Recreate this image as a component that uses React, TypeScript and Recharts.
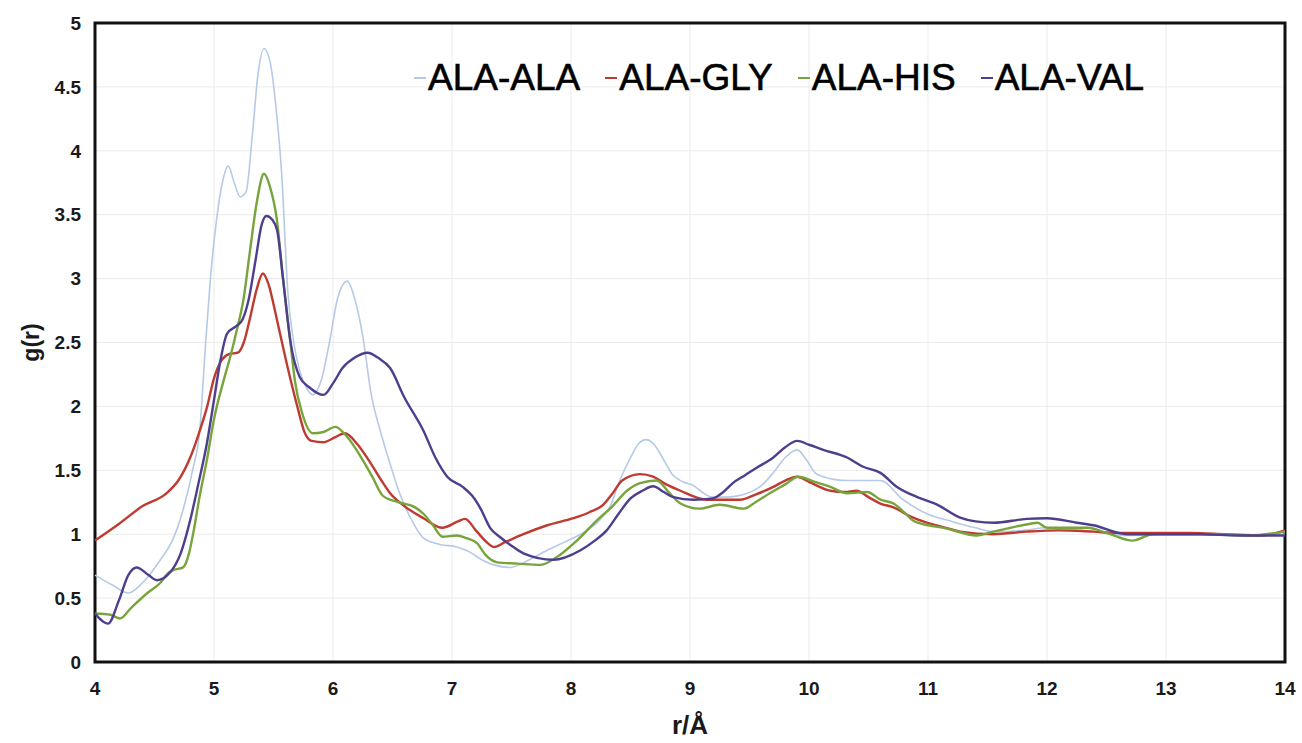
import React from 'react';
import { LineChart, Line, XAxis, YAxis, CartesianGrid, ReferenceArea, Label } from 'recharts';

const rTicks = [4, 5, 6, 7, 8, 9, 10, 11, 12, 13, 14];
const gTicks = [0, 0.5, 1, 1.5, 2, 2.5, 3, 3.5, 4, 4.5, 5];
const seriesNames = ['ALA-ALA', 'ALA-GLY', 'ALA-HIS', 'ALA-VAL'];
const seriesColors = ['#b6cae6', '#be3b31', '#78a43c', '#4e3f8e'];
const seriesWidths = [1.6, 2.4, 2.4, 2.4];

const alaAla: [number, number][] = [
  [4.0, 0.68], [4.15, 0.6], [4.28, 0.54], [4.4, 0.62], [4.55, 0.8], [4.65, 0.95], [4.74, 1.19], [4.82, 1.5],
  [4.88, 1.81], [4.93, 2.5], [4.97, 3.0], [5.02, 3.45], [5.07, 3.75], [5.12, 3.88], [5.17, 3.75], [5.22, 3.64],
  [5.27, 3.68], [5.32, 4.1], [5.37, 4.6], [5.42, 4.8], [5.47, 4.7], [5.52, 4.35], [5.57, 3.8], [5.62, 2.9],
  [5.67, 2.5], [5.72, 2.28], [5.78, 2.14], [5.83, 2.09], [5.9, 2.2], [5.97, 2.5], [6.04, 2.85], [6.12, 2.98],
  [6.18, 2.85], [6.25, 2.55], [6.32, 2.1], [6.4, 1.8], [6.48, 1.55], [6.56, 1.32], [6.65, 1.13], [6.76, 0.97],
  [6.9, 0.92], [7.04, 0.9], [7.15, 0.86], [7.25, 0.8], [7.35, 0.76], [7.49, 0.74], [7.65, 0.8], [7.8, 0.875],
  [7.95, 0.94], [8.08, 1.0], [8.24, 1.11], [8.33, 1.22], [8.41, 1.42], [8.5, 1.6], [8.57, 1.71], [8.63, 1.74],
  [8.7, 1.7], [8.78, 1.58], [8.85, 1.47], [8.94, 1.41], [9.03, 1.38], [9.1, 1.33], [9.19, 1.29], [9.3, 1.29],
  [9.48, 1.32], [9.6, 1.38], [9.7, 1.48], [9.8, 1.6], [9.9, 1.66], [9.98, 1.58], [10.05, 1.48], [10.12, 1.45],
  [10.32, 1.42], [10.6, 1.42], [10.79, 1.27], [10.99, 1.16], [11.2, 1.1], [11.4, 1.05], [11.55, 1.02],
  [11.8, 1.03], [12.0, 1.05], [12.2, 1.04], [12.39, 1.02], [12.67, 0.99], [13.0, 1.0], [13.3, 1.0],
  [13.6, 0.99], [14.0, 1.0],
];

const alaGly: [number, number][] = [
  [4.0, 0.95], [4.2, 1.08], [4.4, 1.22], [4.6, 1.32], [4.7, 1.42], [4.8, 1.6], [4.87, 1.78], [4.94, 1.99],
  [5.0, 2.22], [5.05, 2.34], [5.13, 2.41], [5.2, 2.42], [5.25, 2.5], [5.3, 2.68], [5.36, 2.92], [5.41, 3.04],
  [5.46, 2.95], [5.5, 2.8], [5.55, 2.59], [5.62, 2.3], [5.7, 2.0], [5.76, 1.8], [5.82, 1.73], [5.92, 1.72],
  [6.02, 1.76], [6.1, 1.79], [6.2, 1.71], [6.3, 1.58], [6.4, 1.43], [6.48, 1.32], [6.6, 1.22], [6.76, 1.125],
  [6.92, 1.05], [7.05, 1.1], [7.11, 1.12], [7.2, 1.03], [7.3, 0.93], [7.35, 0.9], [7.45, 0.94], [7.6, 1.0],
  [7.8, 1.07], [8.02, 1.125], [8.15, 1.17], [8.27, 1.23], [8.35, 1.32], [8.43, 1.42], [8.58, 1.47],
  [8.69, 1.45], [8.8, 1.39], [8.92, 1.34], [9.14, 1.27], [9.42, 1.27], [9.55, 1.31], [9.7, 1.37], [9.8, 1.42],
  [9.9, 1.45], [10.0, 1.41], [10.18, 1.34], [10.3, 1.33], [10.4, 1.34], [10.5, 1.29], [10.6, 1.24],
  [10.71, 1.21], [10.85, 1.14], [10.99, 1.09], [11.15, 1.05], [11.27, 1.02], [11.55, 1.0], [11.83, 1.02],
  [12.1, 1.03], [12.39, 1.02], [12.6, 1.01], [12.9, 1.01], [13.2, 1.01], [13.5, 1.0], [13.8, 0.99], [14.0, 1.03],
];

const alaHis: [number, number][] = [
  [4.0, 0.38], [4.13, 0.37], [4.21, 0.34], [4.3, 0.42], [4.44, 0.54], [4.55, 0.62], [4.62, 0.7], [4.66, 0.72],
  [4.74, 0.74], [4.79, 0.85], [4.83, 1.03], [4.88, 1.3], [4.94, 1.58], [5.0, 1.9], [5.08, 2.2], [5.14, 2.4],
  [5.19, 2.59], [5.25, 2.85], [5.3, 3.2], [5.36, 3.6], [5.42, 3.82], [5.47, 3.72], [5.53, 3.45], [5.58, 3.0],
  [5.64, 2.52], [5.68, 2.2], [5.74, 1.95], [5.83, 1.79], [5.92, 1.8], [6.02, 1.84], [6.12, 1.76], [6.25, 1.58],
  [6.33, 1.45], [6.42, 1.3], [6.55, 1.25], [6.69, 1.21], [6.76, 1.16], [6.84, 1.07], [6.92, 0.98], [7.04, 0.99],
  [7.12, 0.97], [7.21, 0.93], [7.28, 0.84], [7.38, 0.78], [7.55, 0.77], [7.74, 0.76], [7.91, 0.84],
  [8.05, 0.95], [8.22, 1.11], [8.35, 1.22], [8.47, 1.34], [8.58, 1.4], [8.72, 1.42], [8.82, 1.33],
  [8.92, 1.24], [9.08, 1.2], [9.25, 1.23], [9.45, 1.2], [9.55, 1.25], [9.67, 1.32], [9.8, 1.39], [9.91, 1.45],
  [10.05, 1.41], [10.18, 1.37], [10.32, 1.32], [10.49, 1.33], [10.6, 1.27], [10.71, 1.24], [10.8, 1.17],
  [10.87, 1.11], [11.0, 1.07], [11.13, 1.05], [11.41, 0.99], [11.55, 1.02], [11.69, 1.05], [11.85, 1.08],
  [11.92, 1.09], [12.0, 1.05], [12.2, 1.05], [12.34, 1.05], [12.53, 1.0], [12.72, 0.95], [12.89, 1.0],
  [13.1, 1.0], [13.4, 1.0], [13.7, 0.99], [14.0, 1.02],
];

const alaVal: [number, number][] = [
  [4.0, 0.38], [4.11, 0.3], [4.2, 0.48], [4.28, 0.68], [4.35, 0.74], [4.45, 0.68], [4.52, 0.64], [4.63, 0.7],
  [4.72, 0.85], [4.8, 1.11], [4.87, 1.4], [4.94, 1.71], [5.0, 2.05], [5.05, 2.34], [5.11, 2.57], [5.19, 2.63],
  [5.24, 2.68], [5.29, 2.83], [5.35, 3.15], [5.4, 3.42], [5.44, 3.49], [5.49, 3.46], [5.53, 3.38], [5.58, 3.0],
  [5.64, 2.52], [5.72, 2.23], [5.8, 2.15], [5.92, 2.09], [6.0, 2.18], [6.08, 2.3], [6.18, 2.38], [6.29, 2.42],
  [6.38, 2.38], [6.48, 2.3], [6.6, 2.07], [6.76, 1.81], [6.86, 1.6], [6.96, 1.45], [7.09, 1.37], [7.17, 1.3],
  [7.24, 1.2], [7.32, 1.05], [7.4, 0.98], [7.5, 0.91], [7.6, 0.85], [7.85, 0.8], [8.08, 0.875], [8.2, 0.95],
  [8.3, 1.03], [8.4, 1.16], [8.5, 1.28], [8.6, 1.34], [8.69, 1.375], [8.78, 1.33], [8.86, 1.29], [9.03, 1.27],
  [9.19, 1.28], [9.28, 1.33], [9.36, 1.4], [9.46, 1.46], [9.56, 1.52], [9.7, 1.6], [9.8, 1.68], [9.9, 1.73],
  [10.0, 1.7], [10.12, 1.66], [10.32, 1.6], [10.45, 1.53], [10.6, 1.48], [10.74, 1.37], [10.91, 1.29],
  [11.08, 1.23], [11.27, 1.13], [11.4, 1.1], [11.55, 1.09], [11.83, 1.12], [12.0, 1.125], [12.25, 1.09],
  [12.39, 1.07], [12.67, 1.0], [13.0, 1.0], [13.3, 1.0], [13.6, 0.99], [14.0, 0.99],
];

const seriesData = [alaAla, alaGly, alaHis, alaVal];
const toPoints = (arr: [number, number][]) => arr.map(([r, g]) => ({ r, g }));

const tickFont = { fontFamily: '"Liberation Sans Narrow", "Liberation Sans", Arial, sans-serif', fontWeight: 700, fontSize: 19, fill: '#1a1a1a' };

const ChartLegend = () => (
  <div style={{ position: 'absolute', left: 414, top: 58, display: 'flex', alignItems: 'center', fontFamily: '"Liberation Sans", Arial, sans-serif', fontSize: 37, color: '#000', lineHeight: '40px', whiteSpace: 'nowrap', WebkitTextStroke: '0.6px #000' } as React.CSSProperties}>
    {seriesNames.map((n, i) => (
      <div key={n} style={{ display: 'flex', alignItems: 'center', marginRight: 25 }}>
        <span style={{ display: 'inline-block', width: 12, height: 2, background: seriesColors[i], marginRight: 2 }} />
        <span>{n}</span>
      </div>
    ))}
  </div>
);

export default function App() {
  return (
    <div style={{ position: 'absolute', left: 0, top: 0, width: 1302, height: 743, background: '#fff' }}>
      <LineChart width={1302} height={743} margin={{ top: 23, right: 17, bottom: 0, left: 0 }}>
        <CartesianGrid stroke="#ebebeb" strokeWidth={1} />
        <XAxis
          type="number"
          dataKey="r"
          domain={[4, 14]}
          ticks={rTicks}
          height={81}
          axisLine={false}
          tickLine={false}
          tickMargin={14}
          tick={tickFont}
          allowDuplicatedCategory={false}
        >
          <Label value="r/Å" position="insideBottom" offset={9} style={{ fontFamily: '"Liberation Sans Narrow", "Liberation Sans", Arial, sans-serif', fontWeight: 700, fontSize: 26, fill: '#1a1a1a' }} />
        </XAxis>
        <YAxis
          type="number"
          domain={[0, 5]}
          ticks={gTicks}
          width={95}
          axisLine={false}
          tickLine={false}
          tickMargin={8}
          tick={tickFont}
          label={({ viewBox }: any) => (
            <text
              x={viewBox.x + 31}
              y={viewBox.y + viewBox.height / 2}
              transform={`rotate(-90 ${viewBox.x + 31} ${viewBox.y + viewBox.height / 2})`}
              textAnchor="middle"
              dominantBaseline="central"
              style={{ fontFamily: '"Liberation Sans Narrow", "Liberation Sans", Arial, sans-serif', fontWeight: 700, fontSize: 23, fill: '#1a1a1a' }}
            >
              g(r)
            </text>
          )}
        />
        {seriesNames.map((n, i) => (
          <Line
            key={n}
            name={n}
            data={toPoints(seriesData[i])}
            dataKey="g"
            type="monotone"
            stroke={seriesColors[i]}
            strokeWidth={seriesWidths[i]}
            dot={false}
            activeDot={false}
            isAnimationActive={false}
          />
        ))}
        <ReferenceArea x1={4} x2={14} y1={0} y2={5} fill="none" stroke="#111" strokeWidth={3} ifOverflow="visible" />
      </LineChart>
      <ChartLegend />
    </div>
  );
}
